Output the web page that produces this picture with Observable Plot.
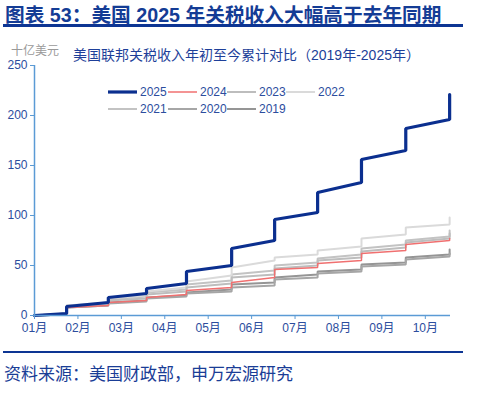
<!DOCTYPE html>
<html><head><meta charset="utf-8">
<script src="https://cdn.jsdelivr.net/npm/d3@7"></script>
<script src="https://cdn.jsdelivr.net/npm/@observablehq/plot@0.6"></script>
<style>
body{margin:0;background:#fff;}
#wrap{position:relative;width:480px;height:398px;overflow:hidden;font-family:"Noto Sans CJK SC",sans-serif;}
.abs{position:absolute;white-space:nowrap;}
#title{left:5px;top:3px;font-family:"Liberation Sans","Noto Sans CJK SC",sans-serif;font-size:19.7px;font-weight:bold;color:#143c95;line-height:24px;}
#rule1{left:3px;top:24px;width:460px;height:2.5px;background:#0d3593;}
#chart{left:0;top:30px;}
#unit{left:11px;top:44px;font-size:12px;line-height:12px;color:#9a9a9a;}
#sub{left:73px;top:47px;font-family:"Liberation Sans","Noto Sans CJK SC",sans-serif;font-size:14px;line-height:16px;color:#1e3f99;}
#rule2{left:3px;top:350.5px;width:460px;height:2.5px;background:#0d3593;}
#source{left:4px;top:363px;font-size:17px;line-height:20px;color:#1a3d96;}
.leg{position:absolute;display:flex;align-items:center;font:12px "Liberation Sans",Arial,sans-serif;color:#2c4d9e;height:14px;}
.leg span{margin-left:3px;}
</style></head>
<body>
<div id="wrap">
  <div id="title" class="abs">图表 53：美国 2025 年关税收入大幅高于去年同期</div>
  <div id="rule1" class="abs"></div>
  <div id="chart" class="abs"></div>
  <div id="unit" class="abs">十亿美元</div>
  <div id="sub" class="abs">美国联邦关税收入年初至今累计对比（2019年-2025年）</div>
  <div id="rule2" class="abs"></div>
  <div id="source" class="abs">资料来源：美国财政部，申万宏源研究</div>
</div>
<script>
// x axis tick labels (month index 0..9)
const months = ["01月","02月","03月","04月","05月","06月","07月","08月","09月","10月"];
// breakpoints along the x axis, in months since 1 Jan
const xBreaks = [0, 0.74,0.74, 1.70,1.70, 2.58,2.58, 3.50,3.50, 4.54,4.54, 5.53,5.53, 6.52,6.52, 7.53,7.53, 8.55,8.55, 9.56,9.56];
// cumulative tariff revenue, billions USD, at each breakpoint
const v2025 = [0, 2,9, 13,18, 22,27, 32,44, 50,67, 75,96, 103,123, 133,156, 165,187, 196,221];
const v2024 = [0, 1,8, 10,13, 15,18, 21,25, 28,33, 38,46, 48,52, 55,62, 65,71, 75,77];
const v2023 = [0, 2,9, 11,15, 17,21, 24,28, 32,38, 41,47, 50,55, 58,64, 68,73, 77,82];
const v2022 = [0, 2,10, 13,17, 20,24, 28,34, 40,48, 55,58, 61,65, 69,77, 81,88, 91,98];
const v2021 = [0, 2,10, 12,16, 19,23, 26,31, 35,41, 45,50, 53,57, 61,67, 71,75, 79,85];
const v2020 = [0, 1,8, 10,12, 14,17, 19,22, 24,28, 30,36, 38,42, 44,49, 51,56, 59,62];
const v2019 = [0, 1,8, 10,13, 15,18, 20,23, 26,31, 33,38, 41,44, 46,51, 53,58, 61,66];
const yTicks = [0,50,100,150,200,250];

const series = [
  {year:"2019", values:v2019, color:"#959595", width:2},
  {year:"2020", values:v2020, color:"#a6a6a6", width:2},
  {year:"2021", values:v2021, color:"#c3c3c3", width:2},
  {year:"2022", values:v2022, color:"#dadada", width:2},
  {year:"2023", values:v2023, color:"#bdbdbd", width:2},
  {year:"2024", values:v2024, color:"#f07070", width:1.5},
  {year:"2025", values:v2025, color:"#0b2f8f", width:3.2}
];

const axisColor = "#5b9bd5", textColor = "#2c4d9e";
const chart = Plot.plot({
  width: 480, height: 310,
  marginTop: 35, marginBottom: 25, marginLeft: 34, marginRight: 30,
  style: {fontFamily: "'Liberation Sans', Arial, 'Noto Sans CJK SC', sans-serif", fontSize: "12px", background: "transparent"},
  x: {type: "linear", domain: [0, 9.58]},
  y: {domain: [0, 250]},
  marks: [
    ...series.map(s => Plot.line(s.values.map((v, i) => ({x: xBreaks[i], y: v})),
      {x: "x", y: "y", stroke: s.color, strokeWidth: s.width, strokeLinejoin: "miter"})),
    Plot.ruleX([0], {stroke: axisColor, strokeWidth: 1.5}),
    Plot.ruleY([0], {stroke: axisColor, strokeWidth: 1.5}),
    Plot.axisY({ticks: yTicks, tickSize: 4, tickPadding: 3, stroke: axisColor, fill: textColor, fontSize: 12, label: null}),
    Plot.axisX({ticks: months.map((m, i) => i), tickFormat: i => months[i], tickSize: 4, tickPadding: 4, stroke: axisColor, fill: textColor, fontSize: 12, label: null})
  ]
});
document.getElementById("chart").appendChild(chart);

// legend
const legendOrder = ["2025","2024","2023","2022","2021","2020","2019"];
const legendCols = [108, 168, 227, 286];
const legendRows = [92, 108.5];
const wrap = document.getElementById("wrap");
legendOrder.forEach((yr, i) => {
  const s = series.find(d => d.year === yr);
  const el = document.createElement("div");
  el.className = "leg";
  el.style.left = legendCols[i % 4] + "px";
  el.style.top = (legendRows[Math.floor(i / 4)] - 7) + "px";
  el.innerHTML = `<svg width="29" height="14"><line x1="0" x2="29" y1="7" y2="7" stroke="${s.color}" stroke-width="${s.width}"/></svg><span>${yr}</span>`;
  wrap.appendChild(el);
});
</script>
</body></html>
